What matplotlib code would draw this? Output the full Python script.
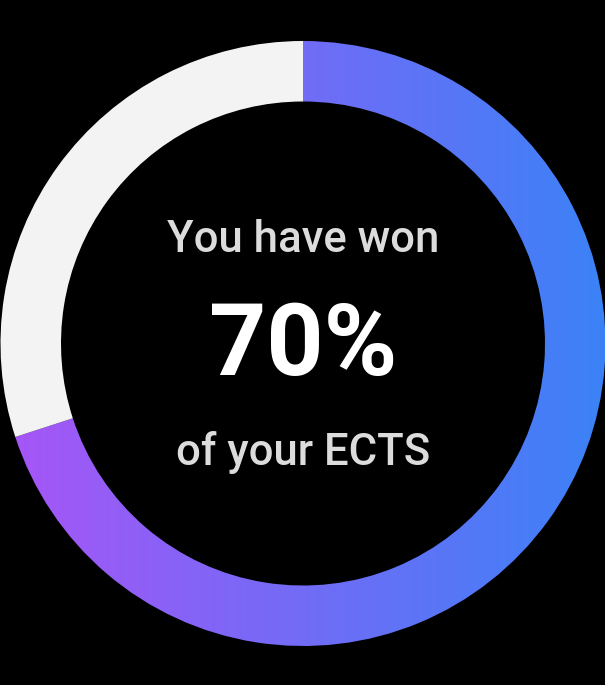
import numpy as np
import matplotlib.pyplot as plt
from matplotlib.colors import LinearSegmentedColormap
from matplotlib.patches import Wedge

# data
won_pct = 70
title_top = "You have won"
title_bottom = "of your ECTS"
grad_colors = ["#a855f7", "#3b82f6"]
rest_color = "#f3f3f3"

W, H = 605, 685
cx, cy = 303, 685 - 343.5
r_out, r_in = 302.5, 242

fig = plt.figure(figsize=(W / 100, H / 100), dpi=100, facecolor="black")
ax = fig.add_axes([0, 0, 1, 1])
ax.set_xlim(0, W)
ax.set_ylim(0, H)
ax.set_aspect("equal")
ax.axis("off")
ax.set_facecolor("black")

# angles: start at 12 o'clock, go clockwise
sweep = 360 * won_pct / 100
end_angle = 90 - sweep

rest = Wedge((cx, cy), r_out, 90, 360 + end_angle, width=r_out - r_in,
             facecolor=rest_color, edgecolor="none")
ax.add_patch(rest)

progress = Wedge((cx, cy), r_out, end_angle, 90, width=r_out - r_in,
                 facecolor="none", edgecolor="none")
ax.add_patch(progress)

cmap = LinearSegmentedColormap.from_list("ring", grad_colors)
grad = np.linspace(0, 1, 256).reshape(1, -1)
img = ax.imshow(grad, cmap=cmap, aspect="auto",
                extent=[cx - r_out, cx + r_out, cy - r_out, cy + r_out],
                interpolation="bilinear")
img.set_clip_path(progress)

font = "Roboto"
ax.text(cx, 685 - 240, title_top, ha="center", va="center",
        fontsize=31.5, color="#dcdcdc", family=font, fontweight="medium")
ax.text(cx, 685 - 347, f"{won_pct}%", ha="center", va="center",
        fontsize=72, color="white", fontweight="bold", family=font)
ax.text(cx, 685 - 452, title_bottom, ha="center", va="center",
        fontsize=31.5, color="#dcdcdc", family=font, fontweight="medium")

fig.savefig("out.png", dpi=100, facecolor="black")
